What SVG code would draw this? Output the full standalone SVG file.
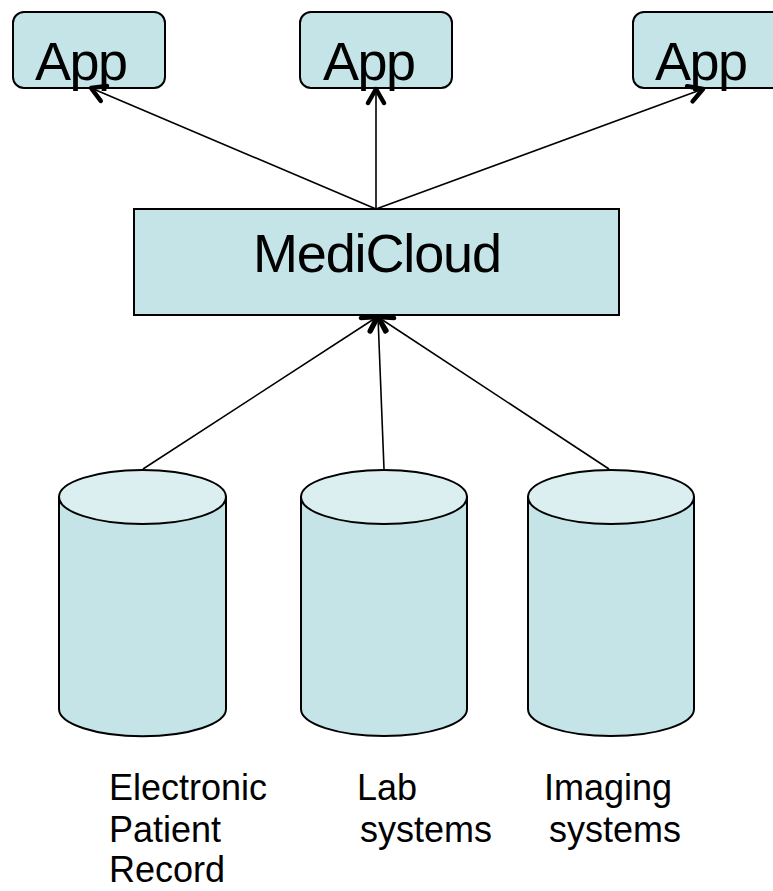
<svg xmlns="http://www.w3.org/2000/svg" width="773" height="891" viewBox="0 0 773 891">
<style>
.box{fill:#c4e4e7;stroke:#000;stroke-width:2}
.top{fill:#dbeff1;stroke:#000;stroke-width:2}
.big{font-family:"Liberation Sans",Arial,sans-serif;font-size:54px;fill:#000}
.lbl{font-family:"Liberation Sans",Arial,sans-serif;font-size:36px;fill:#000}
.con{stroke:#000;stroke-width:1.6;fill:none;marker-end:url(#ah)}
</style>
<defs>
<marker id="ah" markerUnits="userSpaceOnUse" viewBox="-20 -12 24 24" markerWidth="24" markerHeight="24" refX="0" refY="0" orient="auto">
<path d="M-14,-8 L0,0 L-14,8" fill="none" stroke="#000" stroke-width="4.5" stroke-linecap="round" stroke-linejoin="round"/>
</marker>
</defs>
<g id="app1"><rect class="box" x="13" y="12" width="152" height="76" rx="11"/><text class="big" x="35" y="80" textLength="93">App</text></g>
<g id="app2"><rect class="box" x="300" y="12" width="152" height="76" rx="11"/><text class="big" x="323" y="80" textLength="93">App</text></g>
<g id="app3"><rect class="box" x="633" y="12" width="152" height="76" rx="11"/><text class="big" x="655" y="80" textLength="93">App</text></g>
<g id="medicloud"><rect class="box" x="134" y="209" width="485" height="106"/><text class="big" x="253" y="272" textLength="249">MediCloud</text></g>
<g id="db1"><path class="box" d="M59,497 L59,709 A83,27 0 0 0 226,709 L226,497 Z"/><ellipse class="top" cx="142.5" cy="497" rx="83.5" ry="27"/></g>
<g id="db2"><path class="box" d="M301,497 L301,709 A83,27 0 0 0 467,709 L467,497 Z"/><ellipse class="top" cx="384" cy="497" rx="83" ry="27"/></g>
<g id="db3"><path class="box" d="M528,497 L528,709 A83,27 0 0 0 694,709 L694,497 Z"/><ellipse class="top" cx="611" cy="497" rx="83" ry="27"/></g>
<g id="label1"><text class="lbl" x="109" y="800">Electronic</text><text class="lbl" x="109" y="842">Patient</text><text class="lbl" x="109" y="882">Record</text></g>
<g id="label2"><text class="lbl" x="357" y="800">Lab</text><text class="lbl" x="360" y="842">systems</text></g>
<g id="label3"><text class="lbl" x="544" y="800">Imaging</text><text class="lbl" x="549" y="842">systems</text></g>
<g id="connectors">
<line class="con" x1="376" y1="209" x2="91" y2="88"/>
<line class="con" x1="376" y1="209" x2="376" y2="89"/>
<line class="con" x1="376" y1="209" x2="703" y2="89"/>
<line class="con" x1="143" y1="469" x2="377" y2="317"/>
<line class="con" x1="384" y1="469" x2="378" y2="317"/>
<line class="con" x1="609" y1="469" x2="378" y2="317"/>
</g>
</svg>
